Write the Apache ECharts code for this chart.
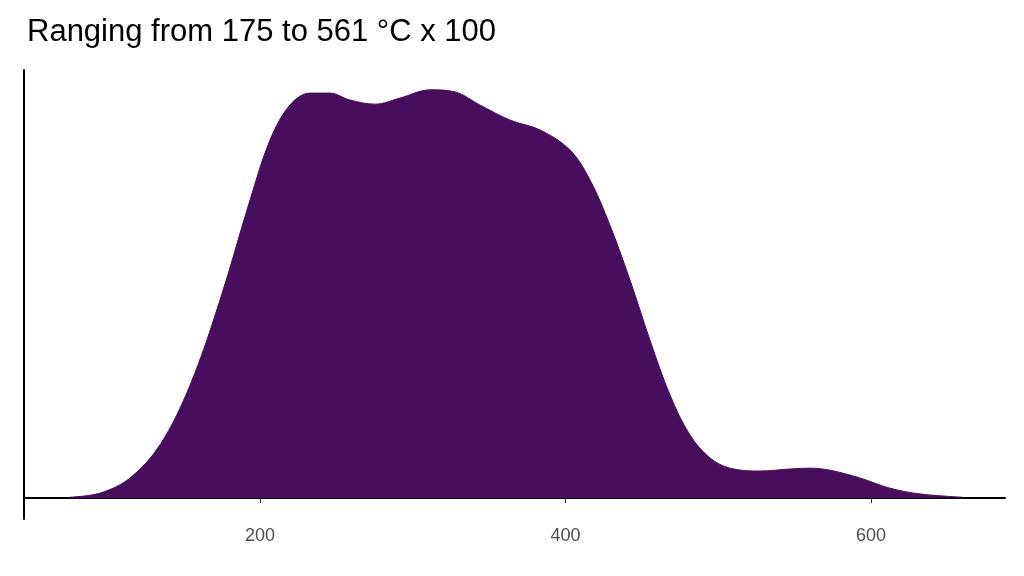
<!DOCTYPE html>
<html><head><meta charset="utf-8">
<script src="https://cdn.jsdelivr.net/npm/echarts@6/dist/echarts.min.js"></script>
<style>html,body{margin:0;padding:0;background:#fff}#c{width:1024px;height:576px}</style>
</head><body><div id="c"></div>
<script>
const titleText = "Ranging from 175 to 561 °C x 100";
const xValues = [75.6,95.3,114.9,134.5,154.2,173.8,193.5,206.5,219.6,232.7,245.8,258.9,275.3,291.7,311.3,327.7,344.0,363.7,383.3,402.9,416.0,429.1,442.2,455.3,468.4,481.5,494.6,507.7,527.3,547.0,560.1,573.2,592.8,612.4,632.1,659.6];
const density = [0.002,0.012,0.049,0.130,0.276,0.484,0.729,0.875,0.961,0.990,0.990,0.973,0.963,0.978,0.998,0.993,0.961,0.924,0.900,0.851,0.778,0.667,0.533,0.386,0.252,0.154,0.098,0.073,0.066,0.071,0.073,0.068,0.049,0.024,0.010,0.002];
const xTicks = [200,400,600];
const chart = echarts.init(document.getElementById('c'));
chart.setOption({
  animation:false,
  title:{text:titleText,left:22,top:12,textStyle:{fontFamily:'Liberation Sans, Arial',fontSize:31,fontWeight:'normal',color:'#000'}},
  grid:{left:24,right:19,top:70,bottom:57},
  xAxis:{type:'value',min:45.5,max:687.7,
    axisLine:{lineStyle:{color:'#000',width:2}},
    axisTick:{show:true,length:5,lineStyle:{color:'#333'},customValues:xTicks},
    axisLabel:{color:'#4d4d4d',fontSize:18,fontFamily:'Liberation Sans, Arial',margin:8,customValues:xTicks},
    splitLine:{show:false}},
  yAxis:{type:'value',min:-0.0513,max:1.0465,
    axisLine:{show:true,lineStyle:{color:'#000',width:2}},
    axisTick:{show:false},axisLabel:{show:false},splitLine:{show:false}},
  series:[{type:'line',data:xValues.map((x,i)=>[x,density[i]]),smooth:0.35,symbol:'none',
    lineStyle:{color:'#470E5D',width:1},areaStyle:{color:'#470E5D',opacity:1}}]
});
</script></body></html>
